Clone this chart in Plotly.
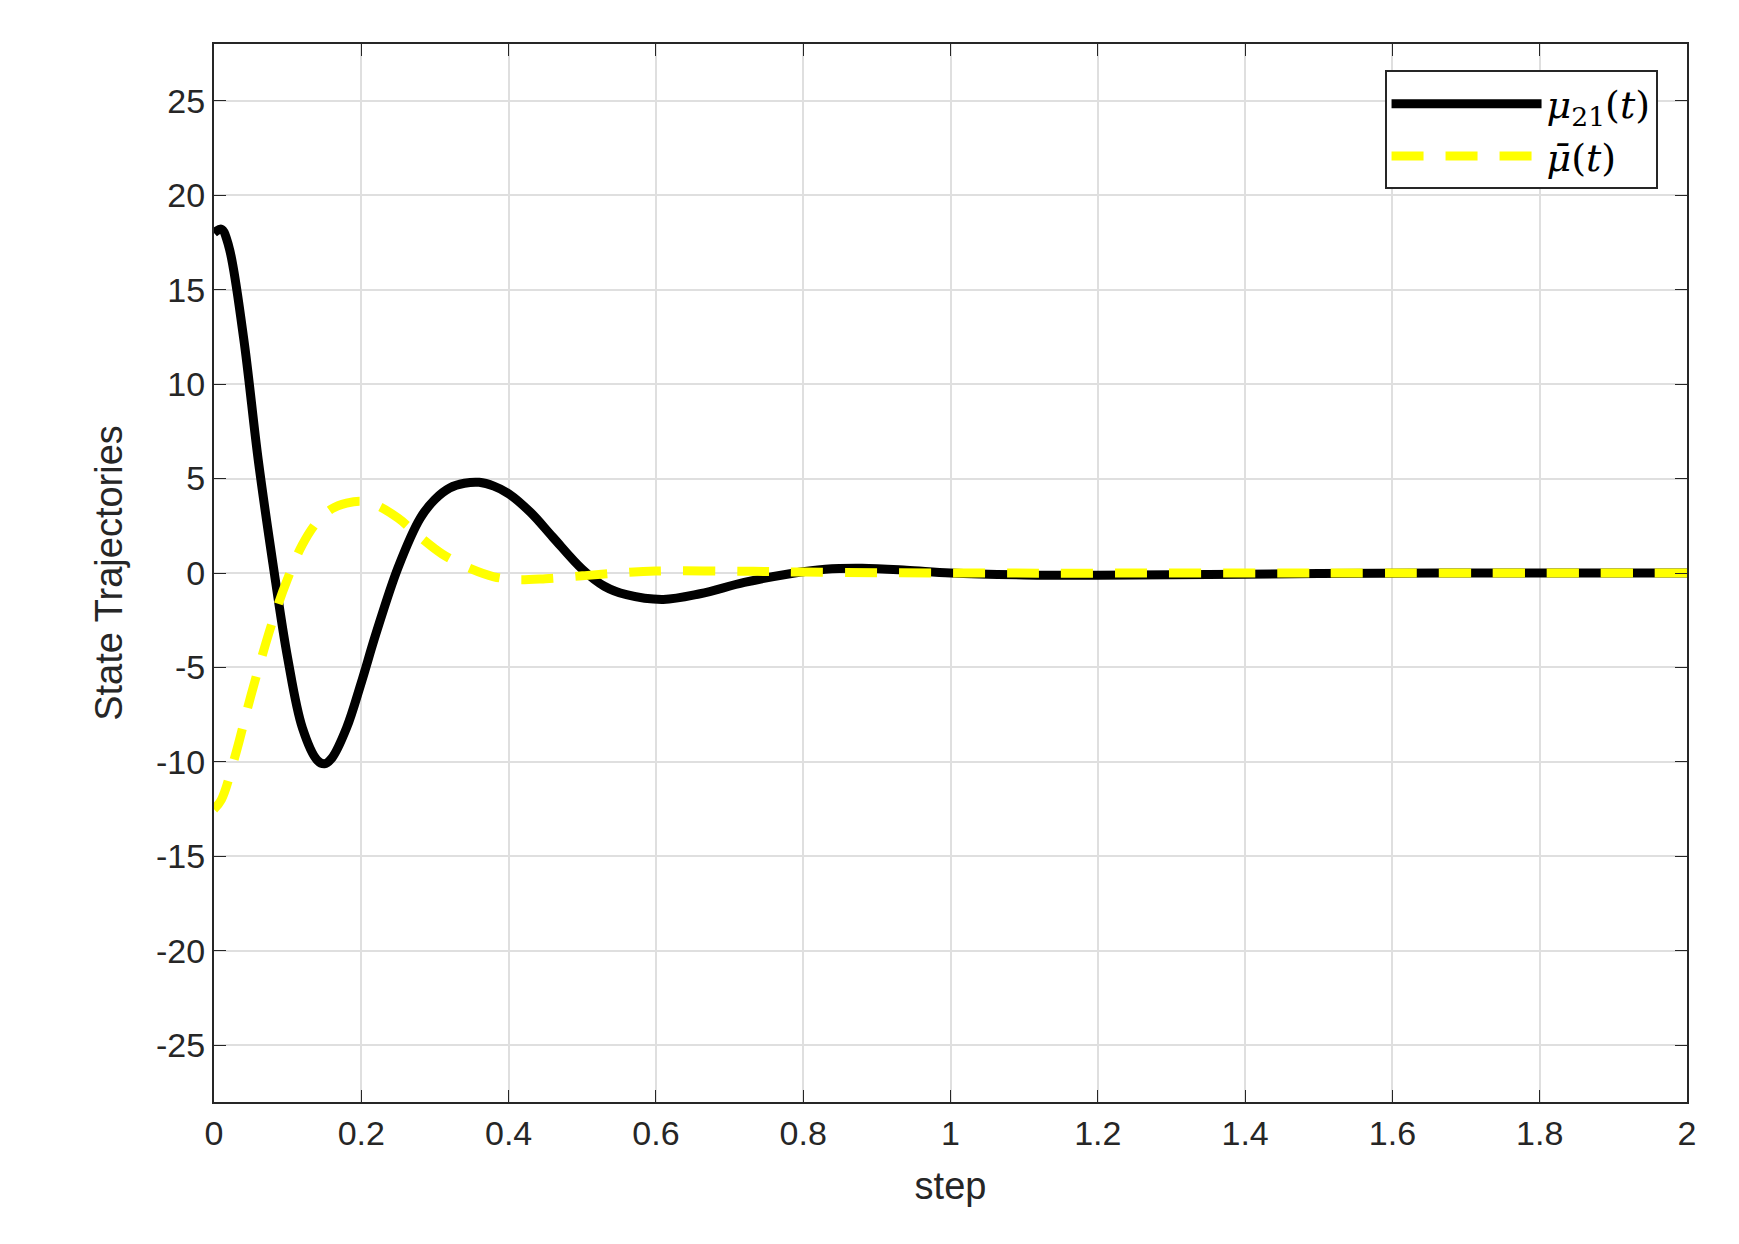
import plotly.graph_objects as go

t_mu = [0, 0.01, 0.02, 0.04, 0.06, 0.08, 0.1, 0.12, 0.14, 0.15, 0.16, 0.18, 0.2, 0.22, 0.25, 0.28, 0.3, 0.32, 0.34, 0.36, 0.38, 0.4, 0.43, 0.46, 0.5, 0.53, 0.56, 0.61, 0.66, 0.72, 0.78, 0.83, 0.88, 0.94, 1.0, 1.1, 1.2, 1.35, 1.5, 1.75, 2.0]
mu21 = [18, 18.2, 17.3, 12.5, 6, 0.5, -4.5, -8.2, -9.9, -10.1, -9.8, -8.2, -5.8, -3.2, 0.3, 2.9, 3.9, 4.5, 4.75, 4.8, 4.6, 4.2, 3.2, 1.9, 0.2, -0.7, -1.15, -1.4, -1.1, -0.5, -0.05, 0.2, 0.25, 0.15, 0.0, -0.1, -0.12, -0.08, -0.03, 0, 0]
t_bar = [0, 0.01, 0.03, 0.05, 0.08, 0.1, 0.12, 0.14, 0.16, 0.18, 0.2, 0.22, 0.25, 0.28, 0.31, 0.35, 0.38, 0.41, 0.45, 0.5, 0.55, 0.6, 0.7, 0.8, 1.0, 1.5, 2.0]
mubar = [-12.5, -12, -9.5, -6.5, -2.5, -0.3, 1.5, 2.7, 3.4, 3.7, 3.8, 3.6, 2.9, 1.9, 1.0, 0.2, -0.2, -0.35, -0.3, -0.15, 0, 0.1, 0.1, 0.05, 0, 0, 0]

x_ticks = [0, 0.2, 0.4, 0.6, 0.8, 1, 1.2, 1.4, 1.6, 1.8, 2]
x_labels = ["0", "0.2", "0.4", "0.6", "0.8", "1", "1.2", "1.4", "1.6", "1.8", "2"]
y_ticks = list(range(-25, 30, 5))
y_labels = [str(v) for v in y_ticks]

fig = go.Figure()
fig.add_trace(go.Scatter(x=t_mu, y=mu21, mode="lines", line=dict(color="black", width=9, shape="spline"),
                         name="<i>μ</i><sub>21</sub>(<i>t</i>)"))
fig.add_trace(go.Scatter(x=t_bar, y=mubar, mode="lines", line=dict(color="#ffff00", width=9, dash="32px,22px", shape="spline"),
                         name="<i>μ̄</i>(<i>t</i>)"))
ax = dict(showline=True, linecolor="#262626", linewidth=2, mirror="ticks", ticks="inside", ticklen=12,
          tickcolor="#262626", gridcolor="#dfdfdf", gridwidth=2, zeroline=False,
          tickfont=dict(family="Liberation Sans", size=34, color="#262626"))
fig.update_xaxes(range=[0, 2], tickvals=x_ticks, ticktext=x_labels,
                 title=dict(text="step", font=dict(family="Liberation Sans", size=38, color="#262626"), standoff=22), **ax)
fig.update_yaxes(range=[-28, 28], tickvals=y_ticks, ticktext=y_labels,
                 title=dict(text="State Trajectories", font=dict(family="Liberation Sans", size=38, color="#262626"), standoff=22), **ax)
fig.update_layout(width=1739, height=1244, plot_bgcolor="white", paper_bgcolor="white",
                  margin=dict(l=206, r=60, t=36, b=150),
                  legend=dict(x=0.98, y=0.975, xanchor="right", yanchor="top", bordercolor="#262626", borderwidth=2,
                              bgcolor="white", font=dict(family="DejaVu Serif", size=38, color="black"),
                              itemwidth=150))
fig.write_html("out.html")
